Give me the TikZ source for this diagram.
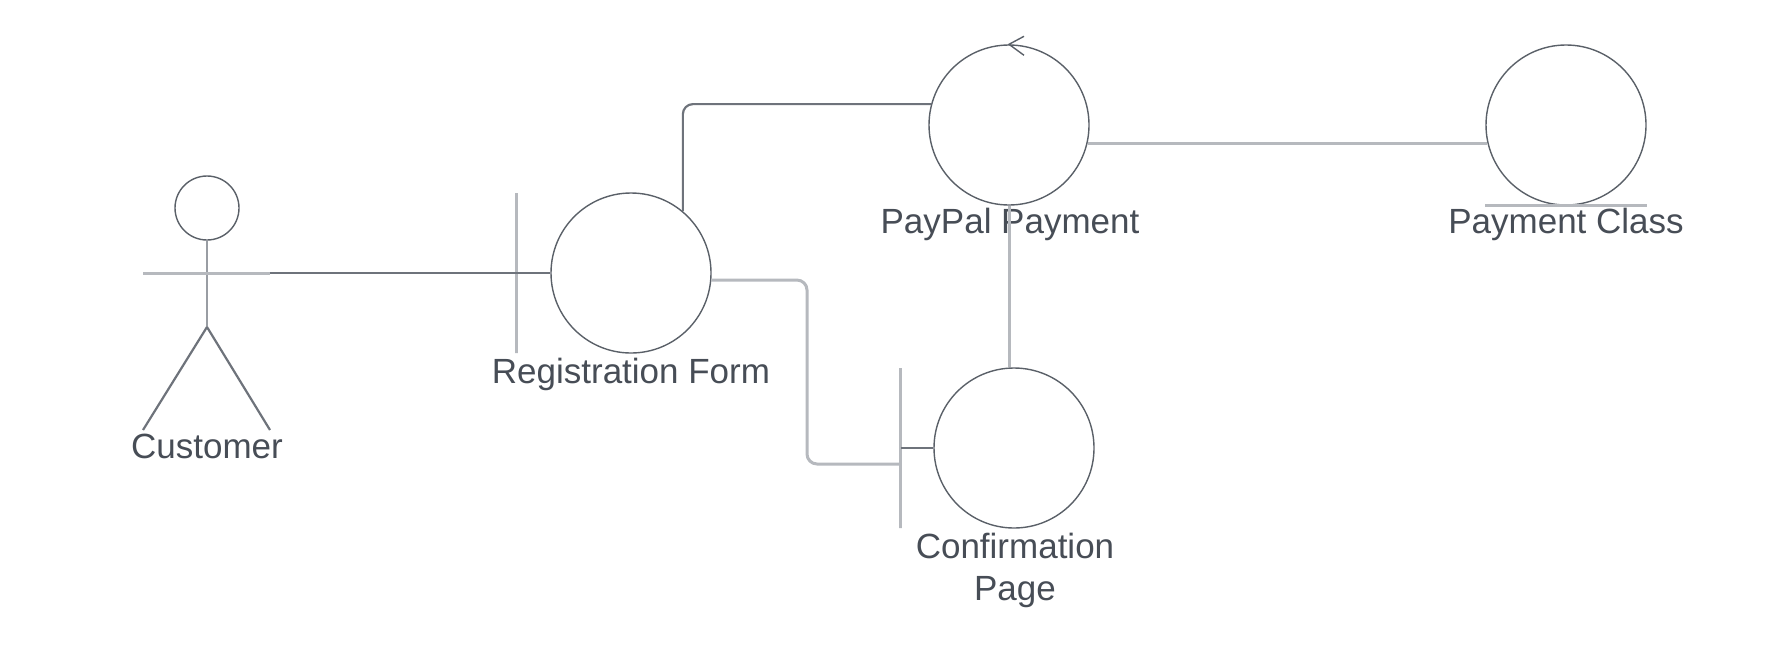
\documentclass[tikz,border=0pt]{standalone}
\usepackage{fontspec}
\setmainfont{Liberation Sans}
\usetikzlibrary{positioning, calc, arrows.meta}
\definecolor{textgray}{HTML}{474D56}
\definecolor{linedark}{HTML}{5A6068}
\definecolor{linemid}{HTML}{6E737B}
\definecolor{linelight}{HTML}{B6B9BE}
\tikzset{
    obj/.style={circle, draw=linedark, line width=1.4pt, minimum size=160pt, inner sep=0pt}, % robustness circles
    bar/.style={draw=linelight, line width=3pt, minimum height=160pt, minimum width=0pt, inner sep=0pt},
    conn/.style={draw=linemid, line width=2.2pt},
    lightconn/.style={draw=linelight, line width=3pt},
    lbl/.style={anchor=base, text=textgray, font=\fontsize{35}{42}\selectfont, align=center, inner sep=0pt},
}

\begin{document}
\begin{tikzpicture}[x=1pt, y=-1pt]
  \useasboundingbox (0,0) rectangle (1782,646);

  % actor
  \node[circle, draw=linedark, line width=1.4pt, minimum size=64pt, inner sep=0pt] (head) at (207,208) {};
  \coordinate (hip) at (207,327);
  \coordinate (hand) at (270,273);
  \draw[draw=linemid!70, line width=2.2pt] (head.south) -- (hip);
  \draw[lightconn] (143,273) -- (hand);
  \draw[conn] (hip) -- (143,430);
  \draw[conn] (hip) -- (270,430);
  \node[lbl] (customer) at (207,458) {Customer};

  % objects
  \node[obj] (reg) at (631,273) {};
  \node[bar, left=32pt of reg.west] (regbar) {};
  \node[lbl] (reglbl) at (631,383) {Registration Form};

  \node[obj] (paypal) at (1009,125) {};
  \node[lbl] (paypallbl) at (1010,233) {PayPal Payment};
  \draw[draw=linedark, line width=1.4pt] ([shift={(15,-8)}]paypal.north) -- (paypal.north) -- ++(15,11);

  \node[obj] (pclass) at (1566,125) {};
  \draw[lightconn] (pclass.west |- pclass.south) -- (pclass.east |- pclass.south);
  \node[lbl] (pclasslbl) at (1566,233) {Payment Class};

  \node[obj] (conf) at (1014,448) {};
  \node[bar, left=31pt of conf.west] (confbar) {};
  \node[lbl] (conflbl) at (1015,600) {Confirmation\\Page};

  % connectors
  \coordinate (bend) at (807,464);
  \draw[conn] (hand) -- (reg.west);
  \draw[conn, rounded corners=10pt] (reg.50) |- (paypal.165);
  \draw[lightconn] (paypal.-13) -- (pclass.193);
  \draw[lightconn] (paypal.south) -- (paypal.south |- conf.north);
  \draw[lightconn, rounded corners=10pt] (reg.-5) -| (bend) -- (confbar.center |- bend);
  \draw[conn] (confbar.center) -- (conf.west);
\end{tikzpicture}
\end{document}
